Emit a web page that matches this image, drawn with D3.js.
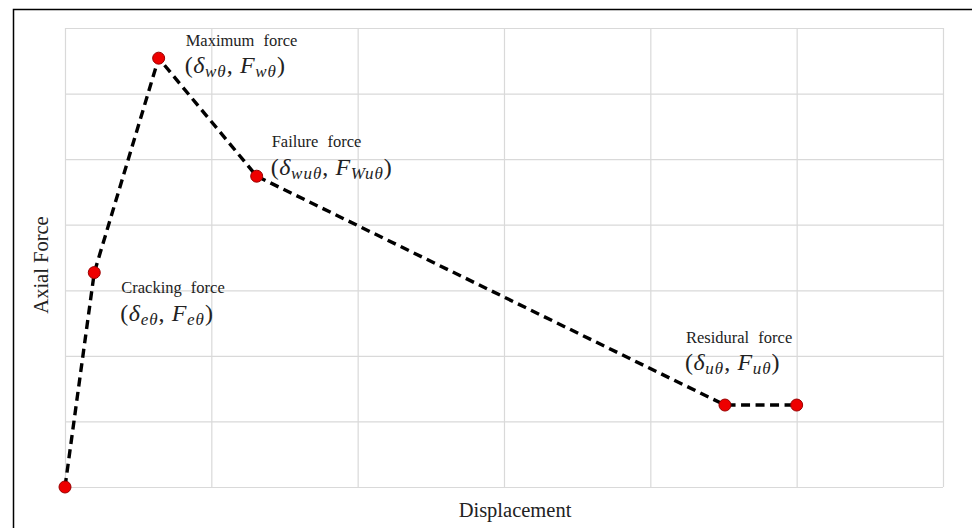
<!DOCTYPE html>
<html>
<head>
<meta charset="utf-8">
<script src="https://cdn.jsdelivr.net/npm/d3@7"></script>
<style>
  html, body { margin: 0; padding: 0; background: #fff; }
  svg { display: block; }
</style>
</head>
<body>
<svg id="chart" width="972" height="528"></svg>
<script>
// ---- data ----
const xDomain = [0, 6];
const yDomain = [0, 7];
const xGridTicks = [0, 1, 2, 3, 4, 5, 6];
const yGridTicks = [0, 1, 2, 3, 4, 5, 6, 7];
const displacement = [0, 0.2, 0.64, 1.31, 4.51, 5.0];
const axialForce = [0, 3.27, 6.54, 4.74, 1.25, 1.25];
const labelNames = ["Cracking force", "Maximum force", "Failure force", "Residural force"];
const labelSym = [["e\u03B8", "e\u03B8"], ["w\u03B8", "w\u03B8"], ["wu\u03B8", "Wu\u03B8"], ["u\u03B8", "u\u03B8"]];
const labelPointIndex = [1, 2, 3, 4];
const xAxisTitle = "Displacement";
const yAxisTitle = "Axial Force";

// ---- layout ----
const svg = d3.select("#chart");
const plot = { left: 65, top: 28, right: 943, bottom: 487 };
const x = d3.scaleLinear().domain(xDomain).range([plot.left, plot.right]);
const y = d3.scaleLinear().domain(yDomain).range([plot.bottom, plot.top]);

// outer border (cropped frame)
svg.append("rect")
  .attr("x", 13.5).attr("y", 9.5)
  .attr("width", 1000).attr("height", 1000)
  .attr("fill", "none").attr("stroke", "#000").attr("stroke-width", 1.5);

// grid via axes
const gridColor = "#d9d9d9";
const gx = svg.append("g")
  .attr("transform", `translate(0,${plot.bottom})`)
  .call(d3.axisBottom(x).tickValues(xGridTicks).tickSize(-(plot.bottom - plot.top)).tickFormat(""));
const gy = svg.append("g")
  .attr("transform", `translate(${plot.left},0)`)
  .call(d3.axisLeft(y).tickValues(yGridTicks).tickSize(-(plot.right - plot.left)).tickFormat(""));
[gx, gy].forEach(g => {
  g.select(".domain").remove();
  g.selectAll(".tick line").attr("stroke", gridColor).attr("stroke-width", 1.2);
});

// line
const pts = displacement.map((d, i) => [d, axialForce[i]]);
svg.append("path")
  .datum(pts)
  .attr("fill", "none")
  .attr("stroke", "#000")
  .attr("stroke-width", 3.4)
  .attr("stroke-dasharray", "9,5.5")
  .attr("d", d3.line().x(d => x(d[0])).y(d => y(d[1])));

// points
svg.selectAll("circle.pt")
  .data(pts)
  .join("circle")
  .attr("class", "pt")
  .attr("cx", d => x(d[0]))
  .attr("cy", d => y(d[1]))
  .attr("r", 6)
  .attr("fill", "#ee0000")
  .attr("stroke", "#9a0000")
  .attr("stroke-width", 1);

// labels (positions relative to point)
const offsets = [
  { dx: 27, dy: 20, mdy: 48 },   // cracking
  { dx: 27, dy: -12, mdy: 15 },  // maximum
  { dx: 15, dy: -29, mdy: -1 },  // failure
  { dx: -39, dy: -62, mdy: -35 } // residual
];
const serif = "'Liberation Serif', 'Times New Roman', serif";
labelNames.forEach((name, i) => {
  const p = pts[labelPointIndex[i]];
  const px = x(p[0]), py = y(p[1]);
  const o = offsets[i];
  svg.append("text")
    .attr("x", px + o.dx).attr("y", py + o.dy)
    .attr("font-family", serif).attr("font-size", 16.5)
    .attr("word-spacing", 5)
    .attr("fill", "#222")
    .text(name);
  const t = svg.append("text")
    .attr("x", px + o.dx - 1).attr("y", py + o.mdy)
    .attr("font-family", serif).attr("font-size", 24)
    .attr("letter-spacing", 0.6)
    .attr("fill", "#222");
  t.append("tspan").text("(");
  t.append("tspan").attr("font-style", "italic").text("\u03B4");
  t.append("tspan").attr("font-style", "italic").attr("font-size", 17).attr("dy", 4).attr("letter-spacing", 1).text(labelSym[i][0]);
  t.append("tspan").attr("dy", -4).text(",\u00A0");
  t.append("tspan").attr("font-style", "italic").text("F");
  t.append("tspan").attr("font-style", "italic").attr("font-size", 17).attr("dy", 4).attr("letter-spacing", 1).text(labelSym[i][1]);
  t.append("tspan").attr("dy", -4).text(")");
});

// axis titles
svg.append("text")
  .attr("x", (plot.left + plot.right) / 2 + 11).attr("y", 517)
  .attr("text-anchor", "middle")
  .attr("font-family", serif).attr("font-size", 20.5)
  .attr("fill", "#222")
  .text(xAxisTitle);
svg.append("text")
  .attr("transform", `translate(48,265) rotate(-90)`)
  .attr("text-anchor", "middle")
  .attr("font-family", serif).attr("font-size", 20.5)
  .attr("fill", "#222")
  .text(yAxisTitle);
</script>
</body>
</html>
